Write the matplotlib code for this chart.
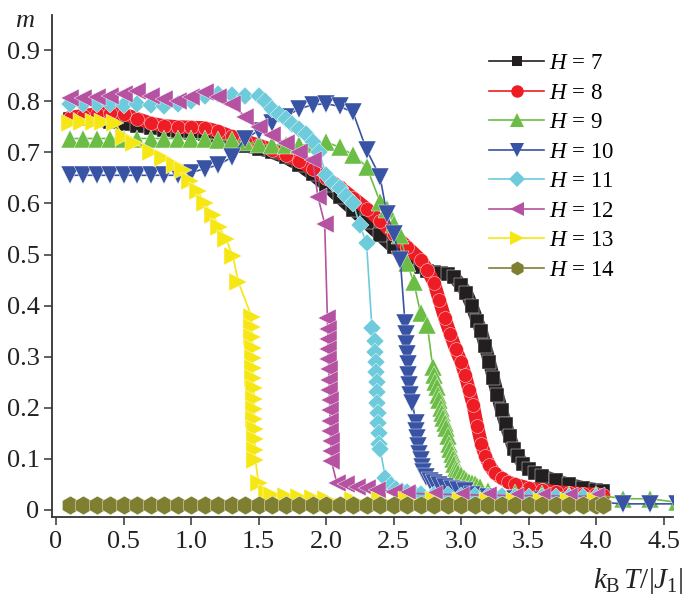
import matplotlib
matplotlib.use("Agg")
import matplotlib.pyplot as plt

plt.rcParams['font.family'] = 'Liberation Serif'
plt.rcParams['mathtext.fontset'] = 'custom'
plt.rcParams['mathtext.rm'] = 'Liberation Serif'
plt.rcParams['mathtext.it'] = 'Liberation Serif:italic'

# ---- data ----
# H = 7
x7 = [0.1, 0.2, 0.3, 0.4, 0.5, 0.6, 0.7, 0.8, 0.9, 1.0, 1.1, 1.2, 1.3, 1.4, 1.5, 1.6, 1.7, 1.8,
      1.9, 2.0, 2.1, 2.2, 2.3, 2.4, 2.5, 2.6, 2.7, 2.75, 2.8, 2.85, 2.9, 2.95, 3.0, 3.04, 3.08,
      3.12, 3.15, 3.18, 3.21, 3.24, 3.27, 3.3, 3.33, 3.36, 3.39, 3.42, 3.46, 3.5, 3.55, 3.6,
      3.7, 3.8, 3.9, 4.0, 4.05]
y7 = [0.765, 0.765, 0.763, 0.76, 0.756, 0.752, 0.748, 0.744, 0.741, 0.738, 0.735, 0.728, 0.72,
      0.713, 0.707, 0.70, 0.69, 0.676, 0.657, 0.636, 0.612, 0.588, 0.563, 0.538, 0.514, 0.493,
      0.475, 0.468, 0.465, 0.464, 0.462, 0.455, 0.44, 0.425, 0.40, 0.37, 0.35, 0.32, 0.29,
      0.258, 0.225, 0.195, 0.168, 0.145, 0.12, 0.105, 0.09, 0.08, 0.072, 0.067, 0.058, 0.05,
      0.044, 0.04, 0.038]

# H = 8
x8 = [0.1, 0.2, 0.3, 0.4, 0.5, 0.6, 0.7, 0.8, 0.9, 1.0, 1.1, 1.2, 1.3, 1.4, 1.5, 1.6, 1.7, 1.8,
      1.9, 2.0, 2.1, 2.2, 2.3, 2.4, 2.5, 2.6, 2.7, 2.75, 2.8, 2.84, 2.88, 2.92, 2.96, 3.0, 3.03,
      3.06, 3.09, 3.12, 3.15, 3.18, 3.21, 3.25, 3.3, 3.35, 3.4, 3.5, 3.6, 3.7, 3.8, 3.9, 4.0, 4.05]
y8 = [0.768, 0.772, 0.775, 0.777, 0.775, 0.766, 0.757, 0.752, 0.75, 0.749, 0.748, 0.741, 0.731,
      0.722, 0.714, 0.705, 0.695, 0.683, 0.668, 0.65, 0.632, 0.611, 0.59, 0.566, 0.54, 0.515,
      0.49, 0.47, 0.445, 0.41, 0.375, 0.345, 0.315, 0.29, 0.265, 0.235, 0.205, 0.165, 0.13,
      0.105, 0.088, 0.072, 0.062, 0.055, 0.05, 0.043, 0.039, 0.036, 0.034, 0.032, 0.031, 0.03]

# H = 9
x9 = [0.1, 0.2, 0.3, 0.4, 0.5, 0.6, 0.7, 0.8, 0.9, 1.0, 1.1, 1.2, 1.3, 1.4, 1.5, 1.6, 1.7, 1.8,
      1.9, 2.0, 2.1, 2.2, 2.3, 2.4, 2.45, 2.5, 2.55, 2.6, 2.65, 2.7, 2.75,
      2.79, 2.80, 2.81, 2.82, 2.83, 2.84, 2.85, 2.86, 2.87, 2.88, 2.89, 2.90, 2.91, 2.92, 2.93,
      2.94, 2.95, 2.96, 2.97, 2.98, 3.0, 3.02, 3.04, 3.06, 3.08, 3.10, 3.12, 3.14,
      3.2, 3.4, 3.6, 3.8, 4.0, 4.2, 4.4, 4.6]
y9 = [0.727, 0.727, 0.727, 0.727, 0.727, 0.727, 0.727, 0.727, 0.727, 0.727, 0.726, 0.725, 0.724,
      0.72, 0.716, 0.714, 0.714, 0.714, 0.716, 0.72, 0.71, 0.695, 0.672, 0.603, 0.59, 0.56,
      0.538, 0.483, 0.446, 0.385, 0.362,
      0.28, 0.265, 0.25, 0.24, 0.225, 0.215, 0.20, 0.19, 0.18, 0.17, 0.16, 0.145, 0.13, 0.12,
      0.11, 0.10, 0.09, 0.083, 0.078, 0.073, 0.068, 0.063, 0.058, 0.055, 0.052, 0.05, 0.047,
      0.045, 0.038, 0.034, 0.032, 0.03, 0.03, 0.022, 0.022, 0.015]

# H = 10
x10 = [0.1, 0.2, 0.3, 0.4, 0.5, 0.6, 0.7, 0.8, 0.9, 1.0, 1.1, 1.2, 1.3, 1.4, 1.5, 1.6, 1.7,
       1.8, 1.9, 2.0, 2.1, 2.2, 2.3, 2.4, 2.45, 2.5, 2.55,
       2.585, 2.59, 2.595, 2.60, 2.605, 2.61, 2.615, 2.62, 2.64,
       2.665, 2.67, 2.675, 2.68, 2.69, 2.70, 2.71, 2.72, 2.74, 2.77, 2.80, 2.84, 2.88, 2.93,
       2.98, 3.03, 3.08, 3.2, 3.4, 3.6, 3.8, 4.0, 4.2, 4.4, 4.6]
y10 = [0.655, 0.655, 0.655, 0.655, 0.655, 0.655, 0.655, 0.655, 0.655, 0.66, 0.668, 0.675, 0.69,
       0.727, 0.742, 0.757, 0.77, 0.785, 0.793, 0.795, 0.79, 0.778, 0.705, 0.652, 0.58, 0.54,
       0.49,
       0.365, 0.345, 0.325, 0.305, 0.285, 0.265, 0.245, 0.225, 0.21,
       0.17, 0.155, 0.14, 0.125, 0.11, 0.097, 0.085, 0.075, 0.065, 0.057, 0.052, 0.048, 0.045,
       0.042, 0.04, 0.038, 0.03, 0.025, 0.022, 0.02, 0.018, 0.016, 0.012, 0.012, 0.012]

# H = 11
x11 = [0.1, 0.2, 0.3, 0.4, 0.5, 0.6, 0.7, 0.8, 0.9, 1.0, 1.1, 1.2, 1.3, 1.4, 1.5, 1.55, 1.6,
       1.65, 1.7, 1.75, 1.8, 1.85, 1.9, 1.95, 2.0, 2.05, 2.1, 2.15, 2.2, 2.25, 2.3, 2.34,
       2.36, 2.365, 2.37, 2.372, 2.375, 2.378, 2.38, 2.383, 2.386, 2.39, 2.395, 2.40,
       2.44, 2.48, 2.52, 2.56, 2.6, 2.65, 2.7, 2.8, 2.9, 3.0, 3.1, 3.2, 3.3, 3.4, 3.5, 3.6,
       3.7, 3.8, 3.9, 4.0]
y11 = [0.795, 0.795, 0.795, 0.795, 0.793, 0.795, 0.793, 0.79, 0.795, 0.80, 0.81, 0.815, 0.812,
       0.81, 0.81, 0.80, 0.785, 0.775, 0.765, 0.755, 0.745, 0.735, 0.72, 0.70, 0.655, 0.64,
       0.63, 0.615, 0.60, 0.558, 0.522, 0.356,
       0.33, 0.31, 0.29, 0.27, 0.25, 0.23, 0.21, 0.19, 0.17, 0.15, 0.13, 0.12,
       0.063, 0.048, 0.042, 0.038, 0.035, 0.033, 0.031, 0.03, 0.029, 0.028, 0.028, 0.027,
       0.027, 0.026, 0.026, 0.026, 0.025, 0.025, 0.025, 0.025]

# H = 12
x12 = [0.1, 0.2, 0.3, 0.4, 0.5, 0.6, 0.7, 0.8, 0.9, 1.0, 1.1, 1.2, 1.3, 1.4, 1.5, 1.6, 1.7,
       1.8, 1.9, 1.94, 1.99,
       2.01, 2.012, 2.014, 2.016, 2.018, 2.02, 2.022, 2.024, 2.026, 2.028, 2.03, 2.032, 2.034,
       2.036, 2.04, 2.08, 2.15, 2.23, 2.3, 2.38, 2.5, 2.6, 2.8, 3.0, 3.2, 3.4, 3.6, 3.8, 4.0]
y12 = [0.806, 0.806, 0.808, 0.81, 0.815, 0.82, 0.81, 0.805, 0.80, 0.808, 0.818, 0.808, 0.795,
       0.77, 0.75, 0.733, 0.718, 0.70, 0.685, 0.613, 0.56,
       0.375, 0.355, 0.335, 0.315, 0.295, 0.275, 0.255, 0.235, 0.215, 0.195, 0.175, 0.155, 0.135,
       0.115, 0.095, 0.053, 0.05, 0.045, 0.043, 0.04, 0.036, 0.033, 0.031, 0.03, 0.029, 0.028,
       0.028, 0.027, 0.027]

# H = 13
x13 = [0.1, 0.19, 0.28, 0.35, 0.44, 0.5, 0.58, 0.7, 0.79, 0.88, 0.94, 0.99, 1.05, 1.1, 1.16,
       1.21, 1.26, 1.31, 1.35,
       1.45, 1.452, 1.454, 1.456, 1.458, 1.46, 1.462, 1.464, 1.466, 1.468, 1.47, 1.471, 1.472,
       1.474, 1.476, 1.50, 1.56, 1.6, 1.7, 1.8, 1.9, 2.0, 2.2, 2.4, 2.6, 2.8, 3.0, 3.2, 3.4,
       3.6, 3.8, 4.0]
y13 = [0.757, 0.76, 0.76, 0.76, 0.757, 0.73, 0.718, 0.70, 0.689, 0.675, 0.665, 0.643, 0.624,
       0.60, 0.578, 0.553, 0.53, 0.497, 0.446,
       0.378, 0.358, 0.338, 0.318, 0.298, 0.278, 0.258, 0.238, 0.218, 0.198, 0.178, 0.158,
       0.138, 0.118, 0.098, 0.053, 0.034, 0.03, 0.027, 0.025, 0.023, 0.022, 0.02, 0.02, 0.019,
       0.019, 0.018, 0.018, 0.018, 0.018, 0.018, 0.018]

# H = 14
x14 = [0.1, 0.2, 0.3, 0.4, 0.5, 0.6, 0.7, 0.8, 0.9, 1.0, 1.1, 1.2, 1.3, 1.4, 1.5, 1.6, 1.7,
       1.8, 1.9, 2.0, 2.1, 2.2, 2.3, 2.4, 2.5, 2.6, 2.7, 2.8, 2.9, 3.0, 3.1, 3.2, 3.3, 3.4,
       3.5, 3.6, 3.7, 3.8, 3.9, 4.0, 4.05]
y14 = [0.01, 0.01, 0.01, 0.01, 0.01, 0.01, 0.01, 0.01, 0.01, 0.01, 0.01, 0.01, 0.01, 0.01,
       0.01, 0.01, 0.01, 0.01, 0.01, 0.01, 0.01, 0.01, 0.01, 0.01, 0.01, 0.01, 0.01, 0.01,
       0.01, 0.01, 0.01, 0.01, 0.01, 0.01, 0.01, 0.01, 0.01, 0.01, 0.01, 0.01, 0.01]

fields = [7, 8, 9, 10, 11, 12, 13, 14]
xs = [x7, x8, x9, x10, x11, x12, x13, x14]
ys = [y7, y8, y9, y10, y11, y12, y13, y14]
colors = ['#231f20', '#ee1c25', '#6cbd45', '#3953a4', '#6dcbdc', '#b552a1', '#f5e614', '#7f7f32']
markers = ['s', 'o', '^', 'v', 'D', '<', '>', 'h']
msizes = [9.5, 10, 12.5, 12.5, 9, 12.5, 12.5, 13.5]
legend_ms = [7, 9, 10, 10, 8, 10, 10, 10]

xticks = [0, 0.5, 1.0, 1.5, 2.0, 2.5, 3.0, 3.5, 4.0, 4.5]
xticklabels = ['0', '0.5', '1.0', '1.5', '2.0', '2.5', '3.0', '3.5', '4.0', '4.5']
yticks = [0, 0.1, 0.2, 0.3, 0.4, 0.5, 0.6, 0.7, 0.8, 0.9]
yticklabels = ['0', '0.1', '0.2', '0.3', '0.4', '0.5', '0.6', '0.7', '0.8', '0.9']

fig = plt.figure(figsize=(6.85, 6.07), dpi=100)
ax = fig.add_axes([52 / 685, 90 / 607, 621 / 685, 502 / 607])

for i, h in enumerate(fields):
    z = 2 + i
    # black and red are sampled densely, they look like a solid band
    if h in (7, 8):
        ax.plot(xs[i], ys[i], color=colors[i], lw=9.5, solid_joinstyle='round',
                solid_capstyle='round', zorder=z)
    ax.plot(xs[i], ys[i], color=colors[i], lw=1.2, marker=markers[i], ms=msizes[i],
            mec='white', mew=0.3, label=f'$H$ = {h}', zorder=z)

ax.set_xlim(-0.03, 4.57)
ax.set_ylim(-0.0137, 0.9687)
ax.set_xticks(xticks)
ax.set_xticklabels(xticklabels)
ax.set_yticks(yticks)
ax.set_yticklabels(yticklabels)
ax.tick_params(direction='out', length=6, width=1.1, colors='#333333', labelsize=19,
               labelcolor='#222222')
ax.tick_params(axis='x', pad=4)
ax.tick_params(axis='y', pad=3)
for s in ['top', 'right']:
    ax.spines[s].set_visible(False)
for s in ['left', 'bottom']:
    ax.spines[s].set_linewidth(1.3)
    ax.spines[s].set_color('#333333')

fig.text(25 / 685, 1 - 21 / 607, '$m$', fontsize=19, ha='center', va='center', color='#222222')
fig.text(683 / 685, 1 - 581 / 607, r'$k_\mathrm{B}\,T/|J_1|$', fontsize=21, ha='right',
         va='center', color='#222222')

handles, labels = ax.get_legend_handles_labels()
leg = fig.legend(handles, labels, loc='upper left', bbox_to_anchor=(489 / 685, 1 - 53 / 607),
                 frameon=False, fontsize=16.5, handlelength=2.4, handletextpad=0.2,
                 labelspacing=0.37, borderpad=0, borderaxespad=0)
for lh, m in zip(leg.legend_handles, legend_ms):
    lh.set_markeredgewidth(0)
    lh.set_markersize(m)

fig.savefig('out.png', dpi=100)
